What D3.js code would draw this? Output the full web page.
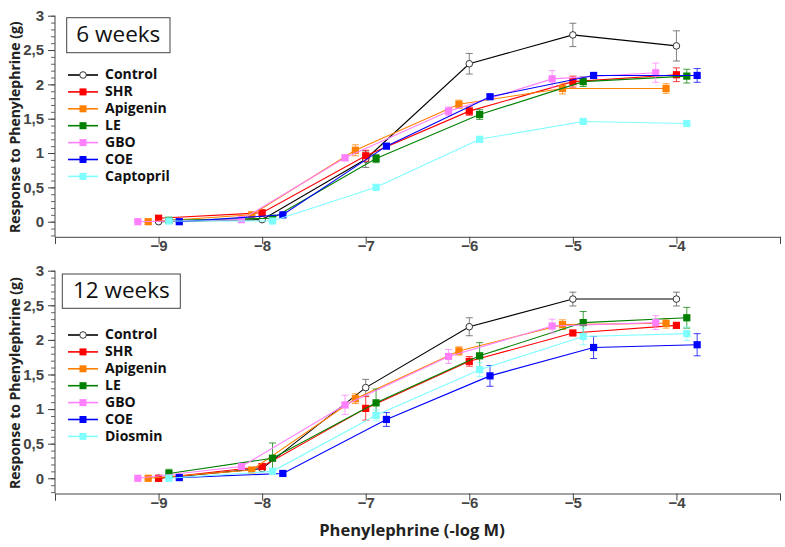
<!DOCTYPE html>
<html>
<head>
<meta charset="utf-8">
<script src="https://cdn.jsdelivr.net/npm/d3@7"></script>
<style>
  body { margin: 0; background: #fff; }
  svg { font-family: "Open Sans", sans-serif; }
  .tick text { font-weight: bold; fill: #454545; }
</style>
</head>
<body>
<div id="chart"></div>
<script>
// Phenylephrine concentrations (-log M) and per-series horizontal shift
const conc = [-9, -8, -7, -6, -5, -4];
const names6 = ["Control", "SHR", "Apigenin", "LE", "GBO", "COE", "Captopril"];
const names12 = ["Control", "SHR", "Apigenin", "LE", "GBO", "COE", "Diosmin"];
const shift = [0, 0, -0.1, 0.1, -0.2, 0.2, 0.1];
const colors = ["#000000", "#ff0000", "#ff8000", "#008000", "#ff80ff", "#0000ff", "#80ffff"];

// 6 weeks
const control6 = [0, 0.03, 0.91, 2.30, 2.72, 2.56];
const shr6 = [0.05, 0.13, 0.96, 1.61, 2.04, 2.14];
const apig6 = [0, 0.10, 1.04, 1.71, 1.94, 1.94];
const le6 = [0.02, 0.05, 0.92, 1.56, 2.04, 2.12];
const gbo6 = [0, 0.03, 0.93, 1.61, 2.08, 2.17];
const coe6 = [0, 0.10, 1.10, 1.82, 2.13, 2.13];
const capt6 = [0.01, 0.01, 0.50, 1.20, 1.46, 1.43];
const err6 = [
  [0.01, 0.02, 0.12, 0.15, 0.17, 0.22],
  [0.04, 0.03, 0.08, 0.06, 0.08, 0.10],
  [0.01, 0.02, 0.08, 0.06, 0.08, 0.07],
  [0.01, 0.02, 0.06, 0.07, 0.07, 0.10],
  [0.01, 0.02, 0.04, 0.06, 0.12, 0.14],
  [0.01, 0.02, 0.03, 0.03, 0.04, 0.10],
  [0.01, 0.01, 0.02, 0.02, 0.02, 0.02]
];

// 12 weeks
const control12 = [0, 0.14, 1.31, 2.19, 2.59, 2.59];
const shr12 = [0, 0.17, 1.01, 1.69, 2.10, 2.21];
const apig12 = [0, 0.12, 1.15, 1.84, 2.22, 2.24];
const le12 = [0.07, 0.29, 1.09, 1.77, 2.25, 2.32];
const gbo12 = [0, 0.17, 1.06, 1.76, 2.20, 2.25];
const coe12 = [0.01, 0.07, 0.85, 1.48, 1.89, 1.93];
const dios12 = [0, 0.10, 0.91, 1.57, 2.05, 2.09];
const err12 = [
  [0.01, 0.02, 0.12, 0.13, 0.10, 0.10],
  [0.01, 0.04, 0.17, 0.07, 0.03, 0.04],
  [0.01, 0.02, 0.07, 0.06, 0.07, 0.07],
  [0.06, 0.22, 0.20, 0.19, 0.16, 0.15],
  [0.01, 0.03, 0.14, 0.10, 0.10, 0.10],
  [0.01, 0.03, 0.10, 0.15, 0.16, 0.16],
  [0.01, 0.02, 0.08, 0.10, 0.12, 0.10]
];

const yMajor = [0, 0.5, 1, 1.5, 2, 2.5, 3];
const xMajor = [-9, -8, -7, -6, -5, -4];

const w = 785, h = 547;
const left = 55, right = 780;

const svg = d3.select("#chart").append("svg")
  .attr("width", w).attr("height", h);

const x = d3.scaleLinear().domain([-10, -3]).range([left, right]);

function panel(top, bottom, title, names, series, errs, box, legendTop) {
  const y = d3.scaleLinear().domain([-0.22, 3]).range([bottom, top]);
  const g = svg.append("g");

  // minor y ticks
  g.append("g")
    .attr("transform", `translate(${left},0)`)
    .call(d3.axisLeft(y).tickValues(d3.range(-2, 31).map(d => d / 10)).tickSize(4).tickFormat(""))
    .call(a => a.select(".domain").remove())
    .selectAll("line").attr("stroke", "#666");

  g.append("g")
    .attr("transform", `translate(${left},0)`)
    .call(d3.axisLeft(y).tickValues(yMajor).tickSize(7).tickPadding(4)
      .tickFormat(d => String(d).replace(".", ",")))
    .call(a => a.select(".domain").attr("stroke", "#444").attr("d", `M0,${top}V${bottom}`))
    .call(a => a.selectAll("line").attr("stroke", "#444"))
    .call(a => a.selectAll("text").style("font-size", "15px"));

  // x axis
  g.append("g")
    .attr("transform", `translate(0,${bottom})`)
    .call(d3.axisBottom(x).tickValues(d3.range(-10, -2)).tickSize(7).tickPadding(-3)
      .tickFormat(d => xMajor.includes(d) ? "\u2212" + Math.abs(d) : ""))
    .call(a => a.select(".domain").attr("stroke", "#444"))
    .call(a => a.selectAll("line").attr("stroke", "#444"))
    .call(a => a.selectAll("text").style("font-size", "15px"));

  g.append("text")
    .attr("transform", `translate(16,${(top + bottom) / 2 + 1}) rotate(-90)`)
    .attr("text-anchor", "middle")
    .attr("dominant-baseline", "middle")
    .style("font-weight", "bold").style("font-size", "14px").attr("fill", "#222")
    .text("Response to Phenylephrine (g)");

  // series: error bars, lines, markers
  series.forEach((vals, i) => {
    const pts = vals.map((v, j) => ({ x: conc[j] + shift[i], y: v, e: errs[i][j] }));
    const s = g.append("g");
    const eb = s.selectAll(".eb").data(pts).enter().append("g")
      .attr("stroke", i === 0 ? "#555" : colors[i]).attr("stroke-opacity", 0.75).attr("stroke-width", 1);
    eb.append("line").attr("x1", d => x(d.x)).attr("x2", d => x(d.x))
      .attr("y1", d => y(d.y - d.e)).attr("y2", d => y(d.y + d.e));
    eb.append("line").attr("x1", d => x(d.x) - 3.5).attr("x2", d => x(d.x) + 3.5)
      .attr("y1", d => y(d.y + d.e)).attr("y2", d => y(d.y + d.e));
    eb.append("line").attr("x1", d => x(d.x) - 3.5).attr("x2", d => x(d.x) + 3.5)
      .attr("y1", d => y(d.y - d.e)).attr("y2", d => y(d.y - d.e));

    s.append("path").datum(pts)
      .attr("fill", "none").attr("stroke", colors[i]).attr("stroke-width", 1.1)
      .attr("d", d3.line().x(d => x(d.x)).y(d => y(d.y)));

    if (i === 0) {
      s.selectAll("circle").data(pts).enter().append("circle")
        .attr("cx", d => x(d.x)).attr("cy", d => y(d.y)).attr("r", 3.3)
        .attr("fill", "#fff").attr("stroke", "#333").attr("stroke-width", 1);
    } else {
      s.selectAll("rect").data(pts).enter().append("rect")
        .attr("x", d => x(d.x) - 3.6).attr("y", d => y(d.y) - 3.6)
        .attr("width", 7.2).attr("height", 7.2).attr("fill", colors[i]);
    }
  });

  // title box
  g.append("rect").attr("x", box[0]).attr("y", box[1]).attr("width", box[2]).attr("height", box[3])
    .attr("fill", "#fff").attr("stroke", "#444").attr("stroke-width", 1);
  g.append("text").attr("x", box[0] + box[2] / 2).attr("y", box[1] + box[3] / 2 + 1)
    .attr("text-anchor", "middle").attr("dominant-baseline", "middle")
    .style("font-size", "22.5px").attr("fill", "#111").text(title);

  // legend
  names.forEach((n, i) => {
    const ly = legendTop + i * 16.9;
    const lg = g.append("g");
    lg.append("line").attr("x1", 68).attr("x2", 98).attr("y1", ly).attr("y2", ly)
      .attr("stroke", colors[i]).attr("stroke-width", 1.6);
    if (i === 0) {
      lg.append("circle").attr("cx", 83).attr("cy", ly).attr("r", 3.3)
        .attr("fill", "#fff").attr("stroke", "#333");
    } else {
      lg.append("rect").attr("x", 79.5).attr("y", ly - 3.5).attr("width", 7).attr("height", 7)
        .attr("fill", colors[i]);
    }
    lg.append("text").attr("x", 105).attr("y", ly + 0.5).attr("dominant-baseline", "middle")
      .style("font-weight", "bold").style("font-size", "14px").attr("fill", "#111").text(n);
  });
}

panel(15.7, 236.8, "6 weeks", names6,
  [control6, shr6, apig6, le6, gbo6, coe6, capt6], err6, [66.7, 17.7, 103.3, 35], 75);
panel(270.7, 493.5, "12 weeks", names12,
  [control12, shr12, apig12, le12, gbo12, coe12, dios12], err12, [62.3, 274, 118, 34.3], 335);

svg.append("text")
  .attr("x", 412).attr("y", 532)
  .attr("text-anchor", "middle").attr("dominant-baseline", "middle")
  .style("font-weight", "bold").style("font-size", "16.5px").attr("fill", "#222")
  .text("Phenylephrine (-log M)");
</script>
</body>
</html>
